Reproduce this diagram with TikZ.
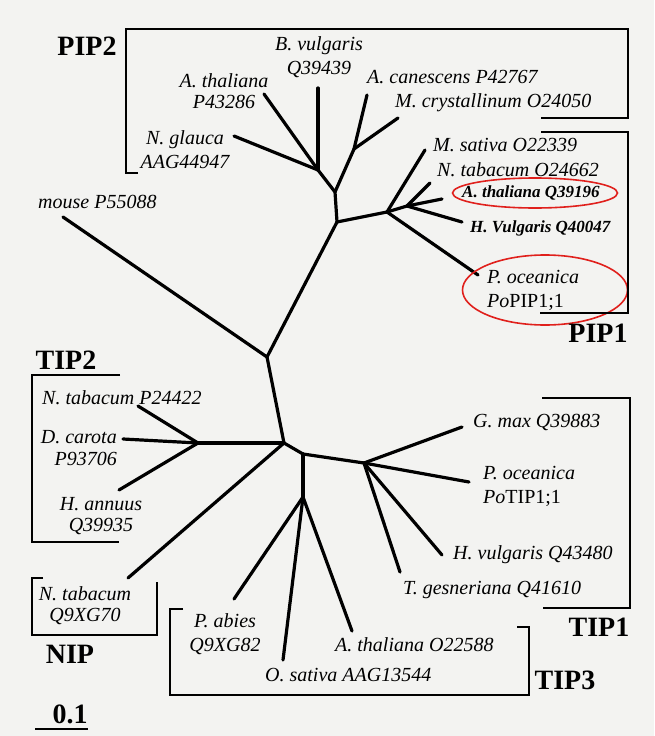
\documentclass[tikz,border=0pt]{standalone}
\usepackage{fontspec}
\setmainfont{Liberation Serif}
\definecolor{scanpaper}{HTML}{F3F3F1}
\definecolor{markred}{HTML}{E0201C}
\usetikzlibrary{shapes.geometric}

\begin{document}
\begin{tikzpicture}[
  x=1pt, y=-1pt,
  branch/.style={line width=3.2pt, line cap=round, line join=round},
  bracket/.style={line width=2.8pt},
  leaf/.style={inner sep=0pt, font=\fontsize{20}{24}\selectfont\itshape},
  keyleaf/.style={inner sep=0pt, font=\fontsize{17}{20}\selectfont\bfseries\itshape},
  grp/.style={inner sep=0pt, font=\fontsize{28}{28}\selectfont\bfseries},
  ring/.style={ellipse, draw=markred, line width=1.6pt, inner sep=0pt}
]
\fill[scanpaper] (0,0) rectangle (654,736);

% internal nodes of the tree
\coordinate (p2a) at (318,170);
\coordinate (p2b) at (335,192);
\coordinate (pcan) at (354,149);
\coordinate (pc) at (337,222);
\coordinate (p1) at (387,212);
\coordinate (p1s) at (407,206);
\coordinate (r1) at (267,357);
\coordinate (r0) at (284,443);
\coordinate (t2) at (198,443);
\coordinate (t13) at (303,454);
\coordinate (t1) at (364,463);
\coordinate (t3) at (303,497);

% leaf ends
\coordinate (bvul) at (318,88);
\coordinate (athP) at (264,94);
\coordinate (nglau) at (234,136);
\coordinate (acan) at (367,95);
\coordinate (mcry) at (398,118);
\coordinate (msat) at (425,150);
\coordinate (ntabO) at (430,183);
\coordinate (athQ) at (442,199);
\coordinate (hvulQ4) at (462,222);
\coordinate (pocP) at (478,275);
\coordinate (mouse) at (63,217);
\coordinate (ntabP) at (138,406);
\coordinate (dcar) at (123,439);
\coordinate (hann) at (119,490);
\coordinate (ntabQ) at (128,578);
\coordinate (pabi) at (234,599);
\coordinate (osat) at (283,660);
\coordinate (athO) at (352,631);
\coordinate (tges) at (400,572);
\coordinate (hvulQ43) at (442,555);
\coordinate (pocT) at (469,482);
\coordinate (gmax) at (462,427);

\draw[branch] (bvul) -- (p2a);
\draw[branch] (athP) -- (p2a);
\draw[branch] (nglau) -- (p2a);
\draw[branch] (p2a) -- (p2b) -- (pc);
\draw[branch] (p2b) -- (pcan);
\draw[branch] (pcan) -- (acan);
\draw[branch] (pcan) -- (mcry);
\draw[branch] (pc) -- (p1);
\draw[branch] (p1) -- (msat);
\draw[branch] (p1) -- (p1s);
\draw[branch] (p1s) -- (ntabO);
\draw[branch] (p1s) -- (athQ);
\draw[branch] (p1s) -- (hvulQ4);
\draw[branch] (p1) -- (pocP);
\draw[branch] (pc) -- (r1);
\draw[branch] (r1) -- (mouse);
\draw[branch] (r1) -- (r0);
\draw[branch] (r0) -- (t2);
\draw[branch] (t2) -- (ntabP);
\draw[branch] (t2) -- (dcar);
\draw[branch] (t2) -- (hann);
\draw[branch] (r0) -- (ntabQ);
\draw[branch] (r0) -- (t13);
\draw[branch] (t13) -- (t1);
\draw[branch] (t1) -- (gmax);
\draw[branch] (t1) -- (pocT);
\draw[branch] (t1) -- (hvulQ43);
\draw[branch] (t1) -- (tges);
\draw[branch] (t13) -- (t3);
\draw[branch] (t3) -- (pabi);
\draw[branch] (t3) -- (osat);
\draw[branch] (t3) -- (athO);

% labels
\node[leaf, align=center] (lbvul) at (319,57) {B. vulgaris\\Q39439};
\node[leaf, align=center] (lathP) at (224,91) {A. thaliana\\[-3pt]P43286};
\node[leaf, align=center] (lnglau) at (185,150) {N. glauca\\AAG44947};
\node[leaf, anchor=west] (lacan) at (367,77) {A. canescens P42767};
\node[leaf, anchor=west] (lmcry) at (395,103) {M. crystallinum O24050};
\node[leaf, anchor=west] (lmsat) at (433,145) {M. sativa O22339};
\node[leaf, anchor=west] (lntabO) at (437,170) {N. tabacum O24662};
\node[keyleaf, anchor=west] (lathQ) at (462,193) {A. thaliana Q39196};
\node[keyleaf, anchor=west] (lhvulQ4) at (470,228) {H. Vulgaris Q40047};
\node[leaf, anchor=west, align=left] (lpocP) at (487,290) {P. oceanica\\Po\textup{PIP1;1}};
\node[leaf, anchor=west] (lmouse) at (38,202) {mouse P55088};
\node[leaf, anchor=west] (lntabP) at (42,398) {N. tabacum P24422};
\node[leaf, anchor=east, align=right] (ldcar) at (117,448) {D. carota\\[-2pt]P93706};
\node[leaf, align=center] (lhann) at (101,516) {H. annuus\\[-3pt]Q39935};
\node[leaf, align=center] (lntabQ) at (85,606) {N. tabacum\\[-3pt]Q9XG70};
\node[leaf, align=center] (lpabi) at (225,634) {P. abies\\Q9XG82};
\node[leaf, anchor=west] (losat) at (265,675) {O. sativa AAG13544};
\node[leaf, anchor=west] (lathO) at (335,645) {A. thaliana O22588};
\node[leaf, anchor=west] (ltges) at (403,590) {T. gesneriana Q41610};
\node[leaf, anchor=west] (lhvulQ43) at (453,555) {H. vulgaris Q43480};
\node[leaf, anchor=west] (lgmax) at (473,422) {G. max Q39883};
\node[leaf, anchor=west, align=left] (lpocT) at (483,486) {P. oceanica\\Po\textup{TIP1;1}};

\node[ring, minimum width=165pt, minimum height=30pt] (ringA) at (535,193) {};
\node[ring, minimum width=165pt, minimum height=70pt] (ringB) at (545,290) {};

% groups
\draw[bracket] (138,173) -- (126,173) -- (126,29) -- (628,29) -- (628,118) -- (541,118);
\draw[bracket] (541,132) -- (628,132) -- (628,313) -- (540,313);
\draw[bracket] (120,375) -- (32,375) -- (32,542) -- (119,542);
\draw[bracket] (43,578) -- (32,578) -- (32,635) -- (157,635) -- (157,582);
\draw[bracket] (542,398) -- (630,398) -- (630,608) -- (543,608);
\draw[bracket] (183,609) -- (170,609) -- (170,695) -- (529,695) -- (529,627) -- (517,627);

\node[grp] (gpip2) at (87,46) {PIP2};
\node[grp] (gpip1) at (598,333) {PIP1};
\node[grp] (gtip2) at (66,360) {TIP2};
\node[grp] (gnip) at (70,654) {NIP};
\node[grp] (gtip1) at (599,627) {TIP1};
\node[grp] (gtip3) at (565,680) {TIP3};

\node[grp] (scale) at (70,714) {0.1};
\draw[bracket] (35,729) -- (88,729);

\end{tikzpicture}
\end{document}
